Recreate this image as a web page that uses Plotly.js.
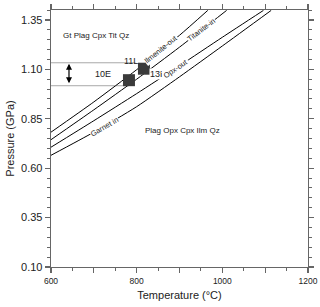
<!DOCTYPE html>
<html><head><meta charset="utf-8">
<script src="https://cdn.plot.ly/plotly-3.0.1.min.js"></script>
<style>html,body{margin:0;padding:0;background:#fff}#chart{width:320px;height:307px}</style>
</head><body><div id="chart"></div>
<script>
// Reaction curves (Temperature °C, Pressure GPa)
const ilmeniteT = [600, 700, 800, 900, 966];
const ilmeniteP = [0.782, 0.935, 1.098, 1.272, 1.398];
const titaniteT = [600, 700, 800, 900, 1010];
const titaniteP = [0.744, 0.895, 1.050, 1.212, 1.398];
const opxT = [600, 700, 800, 900, 1000, 1096];
const opxP = [0.706, 0.840, 0.977, 1.118, 1.262, 1.398];
const garnetT = [600, 700, 800, 900, 1000, 1114];
const garnetP = [0.665, 0.782, 0.911, 1.062, 1.218, 1.398];

// Samples
const sampleT = [782, 817];
const sampleP = [1.045, 1.103];

// Pressure range guide lines
const lowerGuideT = [600, 782];
const lowerGuideP = [1.017, 1.017];
const upperGuideT = [600, 797];
const upperGuideP = [1.133, 1.133];

// Axis ticks
const xTickVals = [600, 700, 800, 900, 1000, 1100, 1200];
const xTickText = ['600', '', '800', '', '1000', '', '1200'];
const yTickVals = [0.10, 0.35, 0.60, 0.85, 1.10, 1.35];
const yTickText = ['0.10', '0.35', '0.60', '0.85', '1.10', '1.35'];

const curve = (x, y) => ({x, y, type: 'scatter', mode: 'lines',
  line: {color: '#000', width: 1, shape: 'spline', smoothing: 0.6}, hoverinfo: 'skip'});
const guide = (x, y) => ({x, y, type: 'scatter', mode: 'lines',
  line: {color: '#a8a8a8', width: 1}, hoverinfo: 'skip'});

const traces = [
  guide(lowerGuideT, lowerGuideP),
  guide(upperGuideT, upperGuideP),
  curve(ilmeniteT, ilmeniteP),
  curve(titaniteT, titaniteP),
  curve(opxT, opxP),
  curve(garnetT, garnetP),
  {x: sampleT, y: sampleP, type: 'scatter', mode: 'markers',
   marker: {symbol: 'square', size: 12, color: '#3a3a3a', line: {width: 0}}}
];

const F = 'Liberation Sans, Arial, sans-serif';
const lbl = (text, x, y, angle, size, bg) => ({text, x, y, xref: 'x', yref: 'y', showarrow: false,
  textangle: angle, font: {family: F, size: size, color: '#222'},
  bgcolor: (angle || bg) ? '#fff' : 'rgba(0,0,0,0)', borderpad: 0});

const annotations = [
  lbl('Gt Plag Cpx Tit Qz', 706, 1.269, 0, 8),
  lbl('Plag Opx Cpx Ilm Qz', 906, 0.79, 0, 8),
  lbl('10E', 721, 1.075, 0, 9),
  lbl('11L', 786, 1.143, 0, 9),
  lbl('13H', 851, 1.078, 0, 9, true),
  lbl('Ilmenite-out', 856, 1.200, -39, 7.5),
  lbl('Titanite-in', 952, 1.300, -37, 7.5),
  lbl('Opx-out', 892, 1.103, -34, 7.5),
  lbl('Garnet in', 726, 0.811, -30, 7.5),
  {x: 642, y: 1.128, ax: 642, ay: 1.022, xref: 'x', yref: 'y', axref: 'x', ayref: 'y',
   text: '', showarrow: true, arrowhead: 2, arrowside: 'end+start', arrowsize: 1,
   arrowwidth: 1.2, arrowcolor: '#000', standoff: 0, startstandoff: 0}
];

const axisCommon = {showline: true, linecolor: '#666', linewidth: 1.3, mirror: 'ticks',
  ticks: 'outside', tickcolor: '#666', tickwidth: 1.3, showgrid: false, zeroline: false};

const layout = {
  width: 320, height: 307,
  margin: {l: 51, r: 12, t: 10, b: 40},
  paper_bgcolor: '#fff', plot_bgcolor: '#fff',
  showlegend: false,
  font: {family: F, color: '#222'},
  xaxis: Object.assign({}, axisCommon, {
    range: [600, 1200], tickmode: 'array', tickvals: xTickVals, ticktext: xTickText,
    ticklen: 5, tickfont: {size: 8.5, family: F, color: '#222'},
    minor: {dtick: 50, tick0: 600, ticklen: 3, ticks: 'outside', tickcolor: '#666', tickwidth: 1},
    title: {text: 'Temperature (°C)', font: {size: 11, family: F, color: '#222'}, standoff: 6}
  }),
  yaxis: Object.assign({}, axisCommon, {
    range: [0.10, 1.40], tickmode: 'array', tickvals: yTickVals, ticktext: yTickText,
    ticklen: 5, tickfont: {size: 11, family: F, color: '#222'},
    minor: {dtick: 0.05, tick0: 0.10, ticklen: 3, ticks: 'outside', tickcolor: '#666', tickwidth: 1},
    title: {text: 'Pressure (GPa)', font: {size: 11, family: F, color: '#222'}, standoff: 4}
  }),
  annotations: annotations
};

Plotly.newPlot('chart', traces, layout, {staticPlot: true, displayModeBar: false});
</script></body></html>
